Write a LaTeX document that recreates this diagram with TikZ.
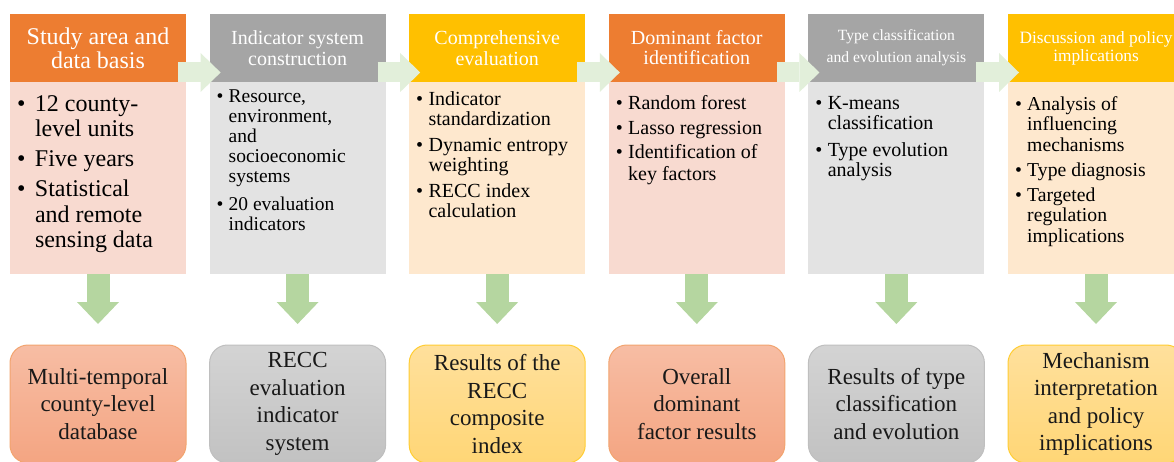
\documentclass[tikz,border=0pt]{standalone}
\usepackage{fontspec}
\setmainfont{Liberation Serif}
\usetikzlibrary{positioning,arrows.meta}

\definecolor{hdorange}{HTML}{ED7D31}
\definecolor{hdgray}{HTML}{A5A5A5}
\definecolor{hdgold}{HTML}{FFC000}
\definecolor{bdorange}{HTML}{F8DAD0}
\definecolor{bdgray}{HTML}{E3E3E3}
\definecolor{bdgold}{HTML}{FEE8CE}
\definecolor{flowgreen}{HTML}{E2EFDA}
\definecolor{downgreen}{HTML}{B5D6A0}
\definecolor{restop}{HTML}{F7BDA4}
\definecolor{resbottom}{HTML}{F4A582}
\definecolor{goldtop}{HTML}{FFE09C}
\definecolor{goldbottom}{HTML}{FFD676}

% bullet item with hanging indent
\newcommand{\bul}[1][0.62em]{\par\hangindent=#1\hangafter=1\noindent\makebox[#1][l]{\textbullet}}
% font size, leading, item gap, top gap, items
\newcommand{\listbox}[5]{\parbox[t][192pt][t]{162pt}{\fontsize{#1}{#2}\selectfont\parskip=#3\relax\vspace*{#4}#5}}

\begin{document}
\begin{tikzpicture}[
  x=1pt, y=1pt,
  header/.style={minimum width=176pt, minimum height=68pt, inner sep=0pt, outer sep=0pt, text=white, align=center},
  panel/.style={minimum width=176pt, minimum height=192pt, inner xsep=7pt, inner ysep=0pt, outer sep=0pt},
  outcome/.style={minimum width=176pt, minimum height=118pt, inner sep=0pt, outer sep=0pt, rounded corners=18pt, line width=1pt, align=center, text=black!90, font=\fontsize{23}{27.5}\selectfont},
  flowarrow/.style={flowgreen, line width=20pt, -{Triangle[length=20pt, width=39pt, line width=0pt]}},
  downarrow/.style={downgreen, line width=23pt, -{Triangle[length=22pt, width=42pt, line width=0pt]}}
]
  \useasboundingbox (0,0) rectangle (1174,-462);

  % headers
  \node[header, fill=hdorange, anchor=north west, font=\fontsize{24}{24}\selectfont] (study) at (10,-14) {Study area and\\data basis};
  \node[header, fill=hdgray, right=23.6pt of study, font=\fontsize{20}{21}\selectfont] (system) {Indicator system\\construction};
  \node[header, fill=hdgold, right=23.6pt of system, font=\fontsize{20}{21}\selectfont] (evaluation) {Comprehensive\\evaluation};
  \node[header, fill=hdorange, right=23.6pt of evaluation, font=\fontsize{20}{20}\selectfont] (factor) {Dominant factor\\identification};
  \node[header, fill=hdgray, right=23.6pt of factor, font=\fontsize{15.6}{22}\selectfont] (types) {Type classification\\and evolution analysis};
  \node[header, fill=hdgold, right=23.6pt of types, font=\fontsize{17.3}{18}\selectfont] (policy) {Discussion and policy\\implications};

  % bullet panels
  \node[panel, fill=bdorange, below=0pt of study] (studylist) {\listbox{24}{25.5}{4.5pt}{9pt}{\bul[0.75em]12 county-\\level units\bul[0.75em]Five years\bul[0.75em]Statistical\\and remote\\sensing data}};
  \node[panel, fill=bdgray, below=0pt of system] (systemlist) {\listbox{19.5}{20}{8pt}{0pt}{\bul Resource,\\environment,\\and\\socioeconomic\\systems\bul 20 evaluation\\indicators}};
  \node[panel, fill=bdgold, below=0pt of evaluation] (evallist) {\listbox{20}{20}{6pt}{3.4pt}{\bul Indicator\\standardization\bul Dynamic entropy\\weighting\bul RECC index\\calculation}};
  \node[panel, fill=bdorange, below=0pt of factor] (factorlist) {\listbox{20}{22}{2.5pt}{11pt}{\bul Random forest\bul Lasso regression\bul Identification of\\key factors}};
  \node[panel, fill=bdgray, below=0pt of types] (typeslist) {\listbox{20}{20}{7pt}{7.4pt}{\bul K-means\\classification\bul Type evolution\\analysis}};
  \node[panel, fill=bdgold, below=0pt of policy] (policylist) {\listbox{19.7}{20.5}{4.5pt}{10pt}{\bul Analysis of\\influencing\\mechanisms\bul Type diagnosis\bul Targeted\\regulation\\implications}};

  % results
  \node[outcome, draw=hdorange!70, top color=restop, bottom color=resbottom, below=71pt of studylist] (database) {Multi-temporal\\county-level\\database};
  \node[outcome, draw=black!25, top color=black!17, bottom color=black!24, below=71pt of systemlist] (indsystem) {RECC\\evaluation\\indicator\\system};
  \node[outcome, draw=hdgold!80, top color=goldtop, bottom color=goldbottom, below=71pt of evallist] (index) {Results of the\\RECC\\composite\\index};
  \node[outcome, draw=hdorange!70, top color=restop, bottom color=resbottom, below=71pt of factorlist] (dominant) {Overall\\dominant\\factor results};
  \node[outcome, draw=black!25, top color=black!17, bottom color=black!24, below=71pt of typeslist] (typeres) {Results of type\\classification\\and evolution};
  \node[outcome, draw=hdgold!80, top color=goldtop, bottom color=goldbottom, below=71pt of policylist] (mechanism) {Mechanism\\interpretation\\and policy\\implications};

  % flow between steps
  \draw[flowarrow] ([xshift=-8pt, yshift=9.5pt]study.south east) -- ([xshift=11pt, yshift=9.5pt]system.south west);
  \draw[flowarrow] ([xshift=-8pt, yshift=9.5pt]system.south east) -- ([xshift=11pt, yshift=9.5pt]evaluation.south west);
  \draw[flowarrow] ([xshift=-8pt, yshift=9.5pt]evaluation.south east) -- ([xshift=11pt, yshift=9.5pt]factor.south west);
  \draw[flowarrow] ([xshift=-8pt, yshift=9.5pt]factor.south east) -- ([xshift=11pt, yshift=9.5pt]types.south west);
  \draw[flowarrow] ([xshift=-8pt, yshift=9.5pt]types.south east) -- ([xshift=11pt, yshift=9.5pt]policy.south west);

  \draw[downarrow] (studylist.south) -- ([yshift=21pt]database.north);
  \draw[downarrow] (systemlist.south) -- ([yshift=21pt]indsystem.north);
  \draw[downarrow] (evallist.south) -- ([yshift=21pt]index.north);
  \draw[downarrow] (factorlist.south) -- ([yshift=21pt]dominant.north);
  \draw[downarrow] (typeslist.south) -- ([yshift=21pt]typeres.north);
  \draw[downarrow] (policylist.south) -- ([yshift=21pt]mechanism.north);
\end{tikzpicture}
\end{document}
